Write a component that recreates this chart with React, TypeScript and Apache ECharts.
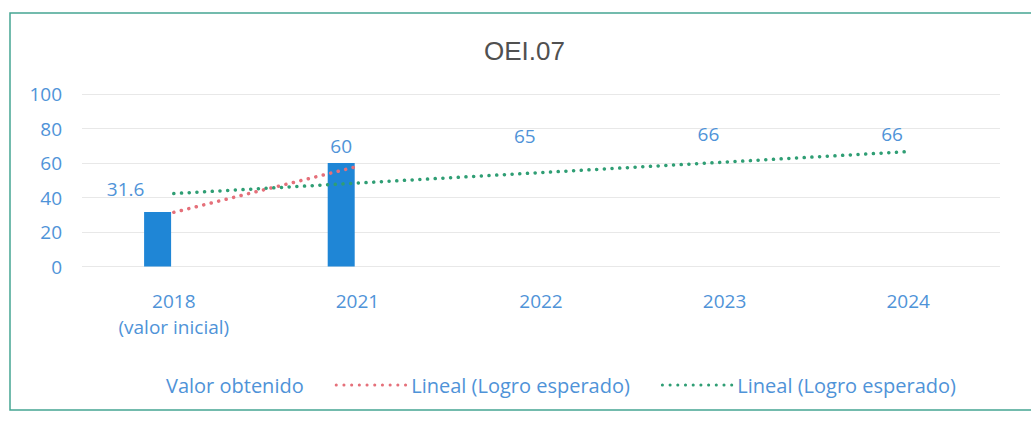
import React, { useEffect, useRef } from "react";
import * as echarts from "echarts";

const categories = ["2018\n(valor inicial)", "2021", "2022", "2023", "2024"];
const valorObtenido: (number | null)[] = [31.6, 60, null, null, null];
const logroEsperado: (number | null)[] = [null, null, 65, 66, 66];
const tendenciaObtenido: (number | null)[] = [31.4, 58, null, null, null];
const tendenciaEsperado: (number | null)[] = [42.3, null, null, null, 66.6];
const yMin = 0;
const yMax = 100;
const yInterval = 20;

const BLUE_TEXT = "#4f93d8";
const BAR_BLUE = "#1f86d6";
const RED = "#e5707a";
const GREEN = "#2f9e74";
const FONT = "'Open Sans', 'Noto Sans', sans-serif";

export default function App() {
  const ref = useRef<HTMLDivElement>(null);

  useEffect(() => {
    if (!ref.current) return;
    const chart = echarts.init(ref.current, undefined, { renderer: "svg" });
    const dotted = [0.1, 7.6];
    const noSymbol = { color: "rgba(0,0,0,0)", borderColor: "rgba(0,0,0,0)", borderWidth: 0 };
    chart.setOption({
      animation: false,
      backgroundColor: "#ffffff",
      title: {
        text: "OEI.07",
        left: 479,
        top: 33,
        textStyle: {
          fontFamily: "'Liberation Sans', Arial, sans-serif",
          fontSize: 26,
          fontWeight: "normal",
          color: "#505050",
        },
      },
      graphic: [
        {
          type: "rect",
          shape: { x: 10, y: 13, width: 1040, height: 397 },
          style: { fill: "none", stroke: "#45a592", lineWidth: 1.5 },
          silent: true,
          z: -1,
        },
      ],
      grid: { left: 82, right: 31, top: 94, height: 172.5, containLabel: false },
      xAxis: {
        type: "category",
        data: categories,
        axisLine: { show: false },
        axisTick: { show: false },
        axisLabel: {
          color: BLUE_TEXT,
          fontFamily: FONT,
          fontSize: 19,
          lineHeight: 26,
          margin: 21,
        },
      },
      yAxis: {
        type: "value",
        min: yMin,
        max: yMax,
        interval: yInterval,
        axisLine: { show: false },
        axisTick: { show: false },
        axisLabel: {
          color: BLUE_TEXT,
          fontFamily: FONT,
          fontSize: 19,
          margin: 20,
        },
        splitLine: { lineStyle: { color: "#e8e8e8", width: 1 } },
      },
      legend: {
        left: 86,
        top: 370,
        itemWidth: 70,
        itemHeight: 14,
        itemGap: 31,
        formatter: (n: string) => n.trim(),
        textStyle: { color: BLUE_TEXT, fontFamily: FONT, fontSize: 20 },
        lineStyle: { width: 3 },
        data: [
          { name: "Valor obtenido", icon: "none" },
          { name: "Lineal (Logro esperado)", itemStyle: noSymbol },
          { name: "Lineal (Logro esperado) ", itemStyle: noSymbol },
        ],
      },
      series: [
        {
          name: "Valor obtenido",
          type: "bar",
          stack: "v",
          barWidth: 27,
          barGap: "20%",
          itemStyle: { color: BAR_BLUE },
          label: {
            show: true,
            position: "top",
            distance: 8,
            color: BLUE_TEXT,
            fontFamily: FONT,
            fontSize: 19,
          },
          data: valorObtenido.map((v, i) =>
            i === 0 ? { value: v, label: { offset: [-32, -5] } } : v
          ),
        },
        {
          name: "Logro esperado",
          type: "bar",
          stack: "v",
          barWidth: 27,
          itemStyle: { color: "rgba(0,0,0,0)" },
          label: {
            show: true,
            position: "top",
            distance: 9,
            color: BLUE_TEXT,
            fontFamily: FONT,
            fontSize: 19,
          },
          data: logroEsperado,
        },
        {
          name: "espacio",
          type: "bar",
          barWidth: 27,
          data: [],
        },
        {
          name: "Lineal (Logro esperado)",
          type: "line",
          symbol: "none",
          connectNulls: true,
          z: 5,
          itemStyle: { color: RED },
          lineStyle: { color: RED, width: 3.5, type: dotted, cap: "round" },
          data: tendenciaObtenido,
        },
        {
          name: "Lineal (Logro esperado) ",
          type: "line",
          symbol: "none",
          connectNulls: true,
          z: 5,
          itemStyle: { color: GREEN },
          lineStyle: { color: GREEN, width: 3.5, type: dotted, cap: "round" },
          data: tendenciaEsperado,
        },
      ],
    });
    return () => chart.dispose();
  }, []);

  return (
    <div
      ref={ref}
      style={{ position: "absolute", left: 0, top: 0, width: 1031, height: 422 }}
    />
  );
}
